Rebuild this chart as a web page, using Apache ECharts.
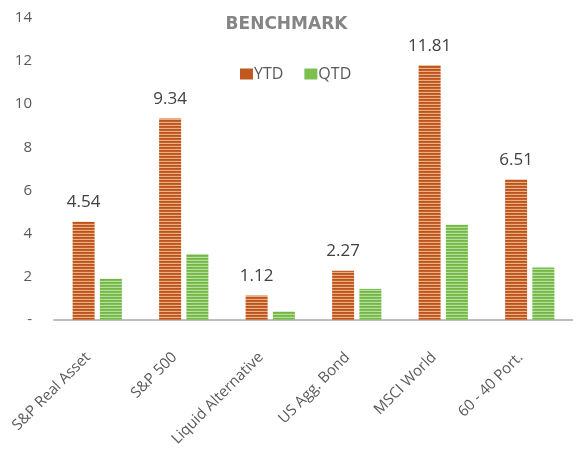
<!DOCTYPE html>
<html>
<head>
<meta charset="utf-8">
<script src="https://cdn.jsdelivr.net/npm/echarts@6/dist/echarts.min.js"></script>
<style>html,body{margin:0;padding:0;background:#fff;}#c{width:573px;height:449px;}</style>
</head>
<body>
<div id="c"></div>
<script>
const categories = ['S&P Real Asset', 'S&P 500', 'Liquid Alternative', 'US Agg. Bond', 'MSCI World', '60 - 40 Port.'];
const ytd = [4.54, 9.34, 1.12, 2.27, 11.81, 6.51];
const qtd = [1.9, 3.05, 0.38, 1.43, 4.4, 2.42];
const yTicks = [0, 2, 4, 6, 8, 10, 12, 14];

const chart = echarts.init(document.getElementById('c'), null, {renderer: 'canvas'});
const font = 'Open Sans, Liberation Sans, sans-serif';

function stripePattern(rows) {
  const cv = document.createElement('canvas');
  cv.width = 4; cv.height = rows.length;
  const ctx = cv.getContext('2d');
  rows.forEach((c, i) => { ctx.fillStyle = c; ctx.fillRect(0, i, 4, 1); });
  return {image: cv, repeat: 'repeat'};
}
const ytdFill = stripePattern(['#bb541c', '#c4602a', '#eab084']);
const qtdFill = stripePattern(['#72b646', '#7dbf52', '#b8dea0']);

function items(values, fill) {
  return values.map(v => ({value: v, itemStyle: {color: fill}}));
}

chart.setOption({
  animation: false,
  backgroundColor: '#ffffff',
  title: {
    text: 'BENCHMARK', left: 'center', top: 11,
    textStyle: {fontFamily: 'DejaVu Sans, sans-serif', fontSize: 17, fontWeight: 'bold', color: '#858585'}
  },
  legend: {
    data: [
      {name: 'YTD', itemStyle: {color: '#c0581f'}},
      {name: 'QTD', itemStyle: {color: '#7cc050'}}
    ],
    top: 61, left: 235, itemWidth: 13, itemHeight: 11, itemGap: 21,
    icon: 'rect',
    textStyle: {fontFamily: font, fontSize: 16, color: '#595959', padding: [0, 0, 0, -4]}
  },
  grid: {left: 54, right: -6, top: 18, bottom: 129, containLabel: false},
  xAxis: {
    type: 'category', data: categories,
    axisLine: {show: true, lineStyle: {color: '#bfbfbf', width: 2}},
    axisTick: {show: false},
    axisLabel: {rotate: 45, interval: 0, margin: 26, padding: [0, 13, 0, 0],
      fontFamily: font, fontSize: 15, color: '#595959'}
  },
  yAxis: {
    type: 'value', min: 0, max: 14, interval: 2,
    axisLine: {show: false}, axisTick: {show: false}, splitLine: {show: false},
    axisLabel: {
      margin: 22, fontFamily: font, fontSize: 15, color: '#595959',
      formatter: v => (yTicks.indexOf(v) === 0 ? '-' : String(v))
    }
  },
  series: [
    {
      name: 'YTD', type: 'bar', barWidth: 22, barGap: '24%',
      data: items(ytd, ytdFill),
      itemStyle: {color: '#c0581f'},
      label: {show: true, position: 'top', distance: 11, fontFamily: font, fontSize: 17, color: '#404040',
        formatter: p => p.value.toFixed(2)}
    },
    {
      name: 'QTD', type: 'bar', barWidth: 22,
      data: items(qtd, qtdFill),
      itemStyle: {color: '#7cc050'}
    }
  ]
});
</script>
</body>
</html>
